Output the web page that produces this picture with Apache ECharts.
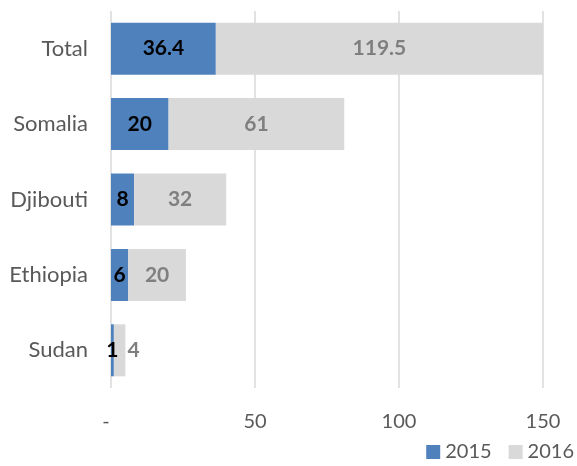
<!DOCTYPE html>
<html>
<head>
<meta charset="utf-8">
<script src="https://cdn.jsdelivr.net/npm/echarts@6/dist/echarts.min.js"></script>
<style>
  html, body { margin: 0; padding: 0; background: #fff; }
  #chart { width: 577px; height: 466px; }
</style>
</head>
<body>
<div id="chart"></div>
<script>
  // categories bottom -> top
  var countries = ['Sudan', 'Ethiopia', 'Djibouti', 'Somalia', 'Total'];
  var values2015 = [1, 6, 8, 20, 36.4];
  var values2016 = [4, 20, 32, 61, 119.5];
  var xTicks = [0, 50, 100, 150];

  var font = 'Lato, "Open Sans", sans-serif';

  var chart = echarts.init(document.getElementById('chart'));
  chart.setOption({
    animation: false,
    textStyle: { fontFamily: font },
    grid: { left: 111, right: 34, top: 11, bottom: 78, containLabel: false },
    legend: {
      right: -2,
      bottom: -1,
      itemWidth: 14,
      itemHeight: 14,
      itemGap: 17,
      icon: 'rect',
      textStyle: { fontSize: 20, color: '#595959', fontFamily: font },
      data: ['2015', '2016']
    },
    xAxis: {
      type: 'value',
      min: xTicks[0],
      max: xTicks[xTicks.length - 1],
      interval: 50,
      axisLine: { show: false },
      axisTick: { show: false },
      splitLine: { lineStyle: { color: '#d9d9d9', width: 1.5 } },
      axisLabel: {
        fontSize: 20, color: '#595959', margin: 24,
        formatter: function (v) { return v === 0 ? '-  ' : v; }
      }
    },
    yAxis: {
      type: 'category',
      data: countries,
      axisLine: { show: false },
      axisTick: { show: false },
      axisLabel: { fontSize: 22, color: '#595959', margin: 23 }
    },
    series: [{
      name: '2015',
      type: 'bar',
      stack: 'all',
      barWidth: '69%',
      itemStyle: { color: '#4f81bd' },
      label: {
        show: true, position: 'inside', fontSize: 21, fontWeight: 'bold',
        color: '#000', fontFamily: font
      },
      data: values2015
    }, {
      name: '2016',
      type: 'bar',
      stack: 'all',
      clip: true,
      itemStyle: { color: '#d9d9d9' },
      label: {
        show: true, position: 'inside', fontSize: 21, fontWeight: 'bold',
        color: '#7f7f7f', fontFamily: font
      },
      data: values2016.map(function (v, i) {
        // smallest bar: label beside it, as in the picture
        if (i === 0) return { value: v, label: { position: 'right', distance: 2 } };
        return v;
      })
    }]
  });
</script>
</body>
</html>
